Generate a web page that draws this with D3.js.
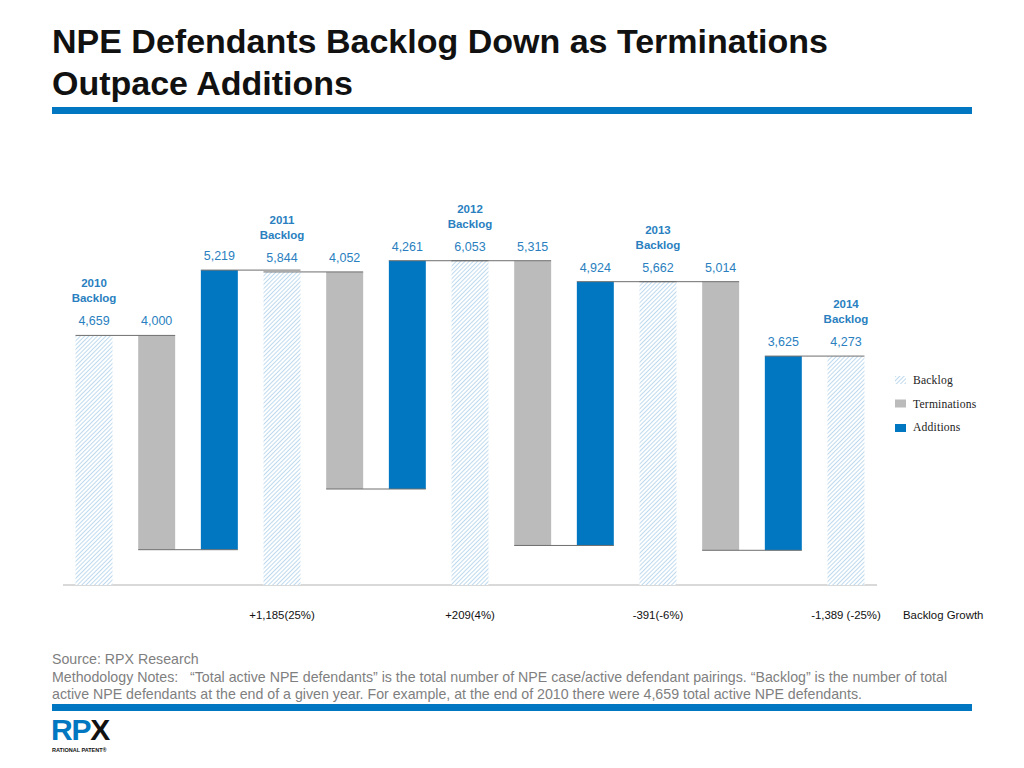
<!DOCTYPE html>
<html><head><meta charset="utf-8">
<script src="https://cdn.jsdelivr.net/npm/d3@7"></script>
<style>body{margin:0;background:#fff}svg{display:block}</style>
</head><body><svg id="c" width="1024" height="768"></svg>
<script>
// ---- data ----
const years = ["2010", "2011", "2012", "2013", "2014"];
const backlog = [4659, 5844, 6053, 5662, 4273];
const terminations = [4000, 4052, 5315, 5014];
const additions = [5219, 4261, 4924, 3625];
const growthLabels = ["+1,185(25%)", "+209(4%)", "-391(-6%)", "-1,389 (-25%)"];
const legendLabels = ["Backlog", "Terminations", "Additions"];
const titleLines = ["NPE Defendants Backlog Down as Terminations", "Outpace Additions"];
const noteLines = [
  "Source: RPX Research",
  "Methodology Notes:   \u201cTotal active NPE defendants\u201d is the total number of NPE case/active defendant pairings. \u201cBacklog\u201d is the number of total",
  "active NPE defendants at the end of a given year. For example, at the end of 2010 there were 4,659 total active NPE defendants."
];

const BLUE = "#0077c0", GRAY = "#bbbbbb", LBL = "#2a7fc0";
const FONT = "Liberation Sans, Arial, sans-serif";
const svg = d3.select("#c");
const defs = svg.append("defs");
const pat = defs.append("pattern").attr("id", "hatch").attr("patternUnits", "userSpaceOnUse")
  .attr("width", 3).attr("height", 3).attr("patternTransform", "rotate(45)");
pat.append("rect").attr("width", 3).attr("height", 3).attr("fill", "#ffffff");
pat.append("line").attr("x1", 0).attr("y1", 0).attr("x2", 0).attr("y2", 3)
  .attr("stroke", "#7db6e0").attr("stroke-width", 1);

// title
svg.selectAll("text.title").data(titleLines).join("text").attr("class", "title")
  .attr("x", 52).attr("y", (d, i) => 53 + i * 42)
  .attr("font-family", FONT).attr("font-weight", "bold")
  .attr("font-size", 34).attr("fill", "#111").text(d => d);
svg.append("rect").attr("x", 52).attr("y", 107).attr("width", 920).attr("height", 7).attr("fill", BLUE);
svg.append("rect").attr("x", 52).attr("y", 704).attr("width", 920).attr("height", 7).attr("fill", BLUE);

// build waterfall items
const items = [];
years.forEach((yr, i) => {
  items.push({key: "B" + i, type: "B", y0: 0, y1: backlog[i], v: backlog[i], year: yr});
  if (i < terminations.length) {
    const start = backlog[i];
    const mid = start - terminations[i];
    items.push({key: "T" + i, type: "T", y0: mid, y1: start, v: terminations[i]});
    items.push({key: "A" + i, type: "A", y0: mid, y1: mid + additions[i], v: additions[i]});
  }
});

const x = d3.scaleBand().domain(items.map(d => d.key)).range([63, 877]).paddingInner(0.41).paddingOuter(0.2);
const y = d3.scaleLinear().domain([0, 7000]).range([585, 210]);

// baseline
svg.append("line").attr("x1", 63).attr("x2", 877).attr("y1", y(0)).attr("y2", y(0))
  .attr("stroke", "#d9d9d9").attr("stroke-width", 2);

const fill = {B: "url(#hatch)", T: GRAY, A: BLUE};
svg.selectAll("rect.bar").data(items).join("rect").attr("class", "bar")
  .attr("x", d => x(d.key)).attr("width", x.bandwidth())
  .attr("y", d => y(d.y1)).attr("height", d => y(d.y0) - y(d.y1))
  .attr("fill", d => fill[d.type]);

// connectors
const conns = [];
for (let i = 0; i < items.length - 1; i++) {
  const a = items[i], b = items[i + 1];
  const v = a.type === "T" ? a.y0 : a.y1;
  conns.push({x1: x(a.key), x2: x(b.key) + x.bandwidth(), v: v});
}
svg.selectAll("line.conn").data(conns).join("line").attr("class", "conn")
  .attr("x1", d => d.x1).attr("x2", d => d.x2).attr("y1", d => y(d.v)).attr("y2", d => y(d.v))
  .attr("stroke", "#6e6e6e").attr("stroke-width", 1);

// value labels
const fmt = d3.format(",");
svg.selectAll("text.val").data(items).join("text").attr("class", "val")
  .attr("x", d => x(d.key) + x.bandwidth() / 2).attr("y", d => y(d.y1) - 10)
  .attr("text-anchor", "middle").attr("font-family", FONT)
  .attr("font-size", 12.5).attr("fill", LBL).text(d => fmt(d.v));

// year labels
const bl = items.filter(d => d.type === "B");
const yl = svg.selectAll("text.yr").data(bl).join("text").attr("class", "yr")
  .attr("text-anchor", "middle").attr("font-family", FONT)
  .attr("font-weight", "bold").attr("font-size", 11.5).attr("fill", LBL);
yl.append("tspan").attr("x", d => x(d.key) + x.bandwidth() / 2).attr("y", d => y(d.y1) - 48).text(d => d.year);
yl.append("tspan").attr("x", d => x(d.key) + x.bandwidth() / 2).attr("y", d => y(d.y1) - 33).text("Backlog");

// growth labels
svg.selectAll("text.gr").data(bl.slice(1)).join("text").attr("class", "gr")
  .attr("x", d => x(d.key) + x.bandwidth() / 2).attr("y", 619)
  .attr("text-anchor", "middle").attr("font-family", FONT)
  .attr("font-size", 11.4).attr("fill", "#111").text((d, i) => growthLabels[i]);
svg.append("text").attr("x", 903).attr("y", 619).attr("font-family", FONT)
  .attr("font-size", 11.4).attr("fill", "#111").text("Backlog Growth");

// legend
const lg = svg.selectAll("g.lg").data(legendLabels).join("g").attr("class", "lg")
  .attr("transform", (d, i) => `translate(895,${376 + i * 23.5})`);
lg.append("rect").attr("width", 11).attr("height", 8).attr("y", (d, i) => i === 2 ? 1 : 0)
  .attr("fill", (d, i) => [fill.B, GRAY, BLUE][i]);
lg.append("text").attr("x", 18).attr("y", 8).attr("font-family", "Liberation Serif, serif")
  .attr("font-size", 11.6).attr("fill", "#222").attr("letter-spacing", 0.2).text(d => d);

// notes
svg.selectAll("text.note").data(noteLines).join("text").attr("class", "note")
  .attr("x", 52).attr("y", (d, i) => 664 + i * 17.5).attr("xml:space", "preserve")
  .style("white-space", "pre")
  .attr("font-family", FONT).attr("font-size", 14.2)
  .attr("fill", "#7f7f7f").text(d => d);

// logo
const logo = svg.append("text").attr("x", 51).attr("y", 739.5).attr("font-family", FONT)
  .attr("font-weight", "bold").attr("font-size", 30).attr("letter-spacing", -1.2);
logo.append("tspan").attr("fill", BLUE).text("RP");
logo.append("tspan").attr("fill", "#111").text("X");
svg.append("text").attr("x", 52).attr("y", 751.5).attr("font-family", FONT)
  .attr("font-weight", "bold").attr("font-size", 5.5).attr("fill", "#111").text("RATIONAL PATENT\u00ae");
</script></body></html>
